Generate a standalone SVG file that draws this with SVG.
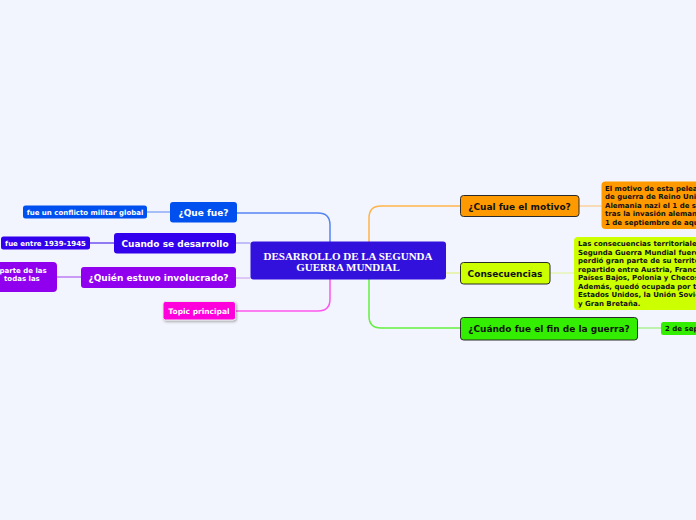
<svg xmlns="http://www.w3.org/2000/svg" width="696" height="520" viewBox="0 0 696 520">
<defs>
<style>
.t{font-family:"DejaVu Sans","Verdana",sans-serif;font-weight:bold}
.w{fill:#ffffff}
.k{fill:#111111}
.c{fill:none;stroke-linecap:round}
.main{stroke:#2b2b2b;stroke-width:1}
</style>
<filter id="sh" x="-10%" y="-20%" width="130%" height="160%">
<feDropShadow dx="1" dy="1.5" stdDeviation="1" flood-color="#000" flood-opacity="0.3"/>
</filter>
</defs>
<rect x="0" y="0" width="696" height="520" fill="#f2f5fd"/>

<g id="connectors">
<path class="c" d="M330 242 V225 Q330 213 318 213 H237" stroke="#5584f3" stroke-width="1.5"/>
<path class="c" d="M250 243 H236" stroke="#8f86f3" stroke-width="1.2"/>
<path class="c" d="M250 278 H236" stroke="#c79af5" stroke-width="1.2"/>
<path class="c" d="M330 279 V299 Q330 311 318 311 H235" stroke="#ff55ee" stroke-width="1.5"/>
<path class="c" d="M369 242 V218 Q369 206 381 206 H460" stroke="#ffb44a" stroke-width="1.5"/>
<path class="c" d="M446 273 H460" stroke="#dcf06a" stroke-width="1.2"/>
<path class="c" d="M369 279 V316 Q369 328 381 328 H460" stroke="#66ee40" stroke-width="1.5"/>
<path class="c" d="M147 212 H170" stroke="#5a86f2" stroke-width="1.2"/>
<path class="c" d="M90 243 H114" stroke="#3300ee" stroke-width="1.2"/>
<path class="c" d="M57 277 H81" stroke="#a040f0" stroke-width="1.2"/>
<path class="c" d="M579 206 H601" stroke="#ffc070" stroke-width="1.2"/>
<path class="c" d="M550 273 H574" stroke="#e0f590" stroke-width="1.2"/>
<path class="c" d="M637 328 H661" stroke="#88f060" stroke-width="1.2"/>
</g>

<g id="central">
<rect x="250.5" y="241.5" width="195.5" height="38" rx="3" fill="#3311dd"/>
<text x="348" y="259.5" text-anchor="middle" font-family="'Liberation Serif','Times New Roman',serif" font-weight="bold" font-size="11" fill="#ffffff">DESARROLLO DE LA SEGUNDA</text>
<text x="348" y="271" text-anchor="middle" font-family="'Liberation Serif','Times New Roman',serif" font-weight="bold" font-size="11" fill="#ffffff">GUERRA MUNDIAL</text>
</g>

<g id="que-fue">
<rect x="170" y="202" width="67" height="20.5" rx="3" fill="#0050ef"/>
<text class="t w" x="203.5" y="215.5" text-anchor="middle" font-size="9">¿Que fue?</text>
</g>
<g id="que-fue-leaf">
<rect x="23" y="205.5" width="124" height="13" rx="2.5" fill="#0050ef"/>
<text class="t w" x="85" y="214.5" text-anchor="middle" font-size="7">fue un conflicto militar global</text>
</g>

<g id="cuando">
<rect x="114" y="233" width="122" height="20.5" rx="3" fill="#3300ee"/>
<text class="t w" x="175" y="246.5" text-anchor="middle" font-size="9">Cuando se desarrollo</text>
</g>
<g id="cuando-leaf">
<rect x="1" y="236.5" width="89" height="13" rx="2.5" fill="#3300ee"/>
<text class="t w" x="45.5" y="245.5" text-anchor="middle" font-size="7">fue entre 1939-1945</text>
</g>

<g id="quien">
<rect x="81" y="267" width="155" height="21" rx="3" fill="#9100ee"/>
<text class="t w" x="158.5" y="281" text-anchor="middle" font-size="9">¿Quién estuvo involucrado?</text>
</g>
<g id="quien-leaf">
<rect x="-60" y="262" width="117" height="30" rx="4" fill="#9100ee"/>
<text class="t w" x="-0.5" y="272.5" font-size="7">parte de las</text>
<text class="t w" x="4" y="281" font-size="7">todas las</text>
</g>

<g id="topic">
<rect x="163" y="301.5" width="72.5" height="18.5" rx="2.5" fill="#ff00dd" stroke="#e8e8e8" stroke-width="1" filter="url(#sh)"/>
<text class="t w" x="199" y="313.5" text-anchor="middle" font-size="7.5">Topic principal</text>
</g>

<g id="motivo">
<rect x="460.5" y="195.5" width="118.5" height="21" rx="3" fill="#ff9900" class="main"/>
<text class="t k" x="519.5" y="209.5" text-anchor="middle" font-size="9">¿Cual fue el motivo?</text>
</g>
<g id="motivo-leaf">
<rect x="601.5" y="181.5" width="110" height="47.5" rx="4" fill="#ff9900"/>
<text class="t k" font-size="7">
<tspan x="605" y="190.5">El motivo de esta pelea</tspan>
<tspan x="605" y="199">de guerra de Reino Uni</tspan>
<tspan x="605" y="207.5">Alemania nazi el 1 de s</tspan>
<tspan x="605" y="216">tras la invasión aleman</tspan>
<tspan x="605" y="224.5">1 de septiembre de aqu</tspan>
</text>
</g>

<g id="consecuencias">
<rect x="460.5" y="262.5" width="89.5" height="21.5" rx="3" fill="#ccff00" class="main"/>
<text class="t k" x="505" y="276.5" text-anchor="middle" font-size="9">Consecuencias</text>
</g>
<g id="consecuencias-leaf">
<rect x="574" y="237" width="140" height="73" rx="4" fill="#ccff00"/>
<text class="t k" font-size="7">
<tspan x="578" y="246">Las consecuencias territoriale</tspan>
<tspan x="578" y="254.5">Segunda Guerra Mundial fuero</tspan>
<tspan x="578" y="263">perdió gran parte de su territo</tspan>
<tspan x="578" y="271.5">repartido entre Austria, Franci</tspan>
<tspan x="578" y="280">Países Bajos, Polonia y Checos</tspan>
<tspan x="578" y="288.5">Además, quedó ocupada por tr</tspan>
<tspan x="578" y="297">Estados Unidos, la Unión Sovié</tspan>
<tspan x="578" y="305.5">y Gran Bretaña.</tspan>
</text>
</g>

<g id="fin">
<rect x="460.5" y="317.5" width="177" height="22.5" rx="3" fill="#33ee00" class="main"/>
<text class="t k" x="549" y="332" text-anchor="middle" font-size="9">¿Cuándo fue el fin de la guerra?</text>
</g>
<g id="fin-leaf">
<rect x="661" y="322" width="60" height="13" rx="2.5" fill="#33ee00"/>
<text class="t k" x="665" y="331" font-size="7">2 de sep</text>
</g>
</svg>
